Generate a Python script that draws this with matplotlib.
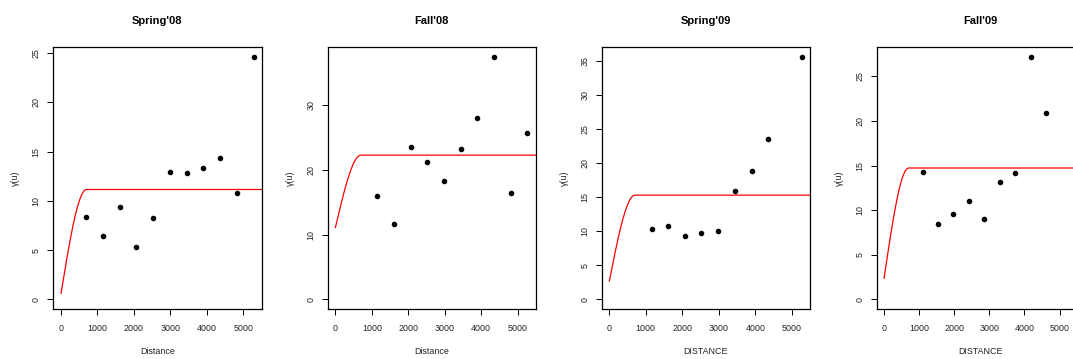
import matplotlib
matplotlib.use("Agg")
import matplotlib.pyplot as plt
import numpy as np

plt.rcParams['font.family'] = ['Liberation Sans', 'DejaVu Sans']

# Empirical semivariogram per season: lag distance and semivariance
titles = ["Spring'08", "Fall'08", "Spring'09", "Fall'09"]
xlabels = ["Distance", "Distance", "DISTANCE", "DISTANCE"]

lag_spring08 = [690, 1150, 1606, 2062, 2518, 2993, 3449, 3905, 4361, 4818, 5283]
gam_spring08 = [8.34, 6.39, 9.39, 5.35, 8.28, 12.95, 12.79, 13.36, 14.37, 10.80, 24.63]

lag_fall08 = [1140, 1606, 2062, 2518, 2974, 3440, 3896, 4352, 4808, 5265]
gam_fall08 = [15.98, 11.57, 23.55, 21.25, 18.23, 23.25, 28.06, 37.48, 16.44, 25.70]

lag_spring09 = [1157, 1612, 2067, 2523, 2987, 3443, 3898, 4353, 5273]
gam_spring09 = [10.37, 10.71, 9.35, 9.79, 10.03, 15.97, 18.89, 23.56, 35.64]

lag_fall09 = [1103, 1540, 1977, 2414, 2852, 3298, 3736, 4173, 4610]
gam_fall09 = [14.31, 8.42, 9.58, 11.03, 9.02, 13.11, 14.20, 27.20, 20.86]

# Fitted spherical model parameters (nugget, sill, range)
nuggets = [0.6, 11.1, 2.68, 2.35]
sills = [11.15, 22.27, 15.3, 14.72]
ranges = [700, 700, 700, 700]

lags = [lag_spring08, lag_fall08, lag_spring09, lag_fall09]
gams = [gam_spring08, gam_fall08, gam_spring09, gam_fall09]
yticks = [np.arange(0, 26, 5), np.arange(0, 31, 10),
          np.arange(0, 36, 5), np.arange(0, 26, 5)]
xlims = [(-212, 5502), (-212, 5502), (-209, 5500), (-209, 5724)]


def spherical(h, nug, sill, a):
    r = np.clip(h / a, 0, 1)
    return nug + (sill - nug) * (1.5 * r - 0.5 * r ** 3)


W, H = 1073, 359
fig = plt.figure(figsize=(W / 100, H / 100), dpi=100)

lefts = [53.3, 327.7, 601.7, 876.7]
ax_w, ax_h = 208.3, 262
ax_top = 47

for i in range(4):
    ax = fig.add_axes([lefts[i] / W, (H - ax_top - ax_h) / H, ax_w / W, ax_h / H])
    x = np.array(lags[i])
    y = np.array(gams[i])

    h = np.linspace(0, xlims[i][1], 600)
    ax.plot(h, spherical(h, nuggets[i], sills[i], ranges[i]),
            color='#ff0000', lw=0.9)
    ax.plot(x, y, 'o', color='black', ms=3)

    ymax = y.max()
    ax.set_xlim(*xlims[i])
    ax.set_ylim(-0.04 * ymax, 1.04 * ymax)
    ax.set_xticks(np.arange(0, 5001, 1000))
    ax.set_yticks(yticks[i])

    ax.tick_params(direction='out', length=4, width=0.7, labelsize=6.4,
                   color='black', labelcolor='#222222')
    ax.tick_params(axis='x', pad=7)
    ax.tick_params(axis='y', pad=5)
    plt.setp(ax.get_yticklabels(), rotation=90, va='center')
    for s in ax.spines.values():
        s.set_linewidth(0.9)

    ax.set_xlabel(xlabels[i], fontsize=6.4, color='#222222')
    ax.xaxis.set_label_coords(0.5, -38 / ax_h)
    ax.set_ylabel('γ(u)', fontsize=6.4, color='#222222')
    ax.yaxis.set_label_coords(-33 / ax_w, 0.5)
    ax.text(0.5, 1 + 26.5 / ax_h, titles[i], transform=ax.transAxes,
            ha='center', va='center', fontsize=8, fontweight='bold')

fig.savefig("out.png", dpi=100)
